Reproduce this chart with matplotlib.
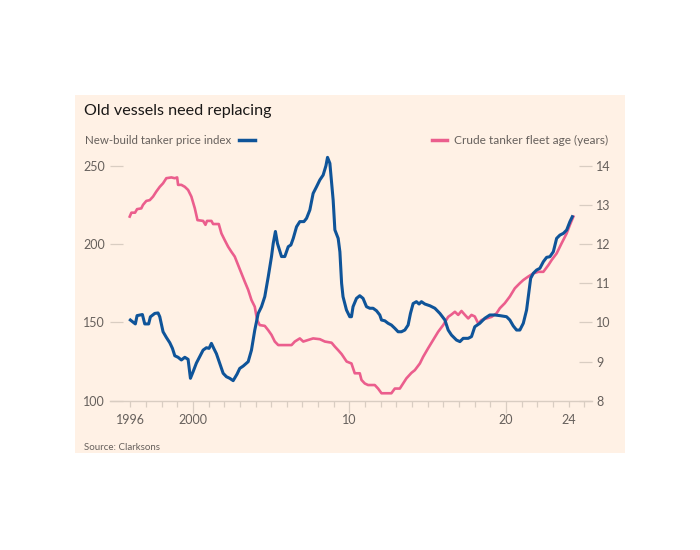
import numpy as np
import matplotlib.pyplot as plt
from matplotlib.patches import Rectangle

# New-build tanker price index (left axis)
price_years = [1996.0, 1996.32, 1996.43, 1996.77, 1996.92, 1997.17, 1997.28, 1997.56, 1997.77, 1997.88,
               1998.09, 1998.30, 1998.52, 1998.69, 1998.84, 1999.05, 1999.26, 1999.48, 1999.69, 1999.84,
               2000.01, 2000.22, 2000.43, 2000.65, 2000.86, 2001.03, 2001.18, 2001.33, 2001.50, 2001.71,
               2001.93, 2002.14, 2002.35, 2002.57, 2002.82, 2002.99, 2003.21, 2003.53, 2003.74, 2003.95,
               2004.17, 2004.38, 2004.59, 2004.81, 2005.02, 2005.13, 2005.27, 2005.40, 2005.66, 2005.87,
               2006.09, 2006.26, 2006.41, 2006.62, 2006.83, 2007.09, 2007.26, 2007.47, 2007.68, 2007.90,
               2008.11, 2008.32, 2008.50, 2008.60, 2008.75, 2008.96, 2009.07, 2009.28, 2009.39, 2009.50,
               2009.59, 2009.81, 2010.02, 2010.13, 2010.23, 2010.45, 2010.66, 2010.87, 2011.09, 2011.30,
               2011.51, 2011.73, 2011.94, 2012.05, 2012.26, 2012.47, 2012.68, 2012.90, 2013.11, 2013.32,
               2013.54, 2013.75, 2013.90, 2014.07, 2014.28, 2014.45, 2014.60, 2014.82, 2015.14, 2015.46,
               2015.78, 2016.10, 2016.31, 2016.52, 2016.84, 2017.06, 2017.27, 2017.59, 2017.80, 2018.01,
               2018.33, 2018.65, 2018.97, 2019.29, 2019.61, 2020.04, 2020.25, 2020.47, 2020.68, 2020.89,
               2021.11, 2021.32, 2021.43, 2021.58, 2021.75, 2021.96, 2022.17, 2022.39, 2022.60, 2022.81,
               2023.03, 2023.24, 2023.45, 2023.67, 2023.88, 2024.09, 2024.24]
price_index = [151.5, 149.0, 154.3, 155.0, 149.0, 149.0, 153.5, 155.7, 156.0, 153.6,
               144.0, 140.4, 137.0, 133.4, 128.7, 127.7, 126.0, 127.7, 126.4, 114.3,
               118.5, 124.0, 128.0, 132.3, 133.8, 133.4, 136.6, 133.4, 130.0, 124.0,
               117.5, 115.3, 114.3, 112.8, 117.0, 120.6, 122.1, 124.9, 132.3, 145.0,
               155.7, 160.0, 166.4, 179.0, 192.0, 200.4, 208.0, 200.4, 192.0, 192.0,
               198.3, 199.4, 203.6, 211.0, 214.3, 214.3, 216.4, 221.7, 232.3, 236.6,
               240.9, 244.0, 250.0, 255.3, 251.5, 228.0, 209.0, 203.6, 195.0, 174.9,
               166.4, 157.9, 153.6, 153.6, 160.0, 165.3, 167.0, 165.3, 160.0, 159.0,
               159.0, 157.4, 154.7, 151.5, 151.0, 149.4, 148.3, 146.2, 144.0, 144.0,
               145.1, 148.3, 155.7, 162.0, 163.2, 161.7, 163.2, 161.7, 160.6, 159.0,
               155.7, 151.5, 145.1, 141.9, 138.7, 137.7, 139.8, 139.8, 140.9, 147.2,
               149.4, 152.6, 154.7, 154.7, 154.3, 153.6, 151.5, 147.7, 145.1, 145.1,
               149.4, 157.9, 166.4, 178.1, 181.3, 183.4, 184.5, 188.7, 191.5, 191.9,
               195.1, 203.6, 205.7, 206.8, 208.9, 214.3, 217.4]

# Crude tanker fleet age, years (right axis)
age_years = [1995.96, 1996.07, 1996.30, 1996.43, 1996.70, 1996.81, 1997.02, 1997.24, 1997.45, 1997.66,
             1997.88, 1998.09, 1998.30, 1998.62, 1998.84, 1998.99, 1999.05, 1999.26, 1999.48, 1999.69,
             1999.90, 2000.12, 2000.29, 2000.65, 2000.80, 2000.90, 2001.18, 2001.29, 2001.65, 2001.82,
             2002.03, 2002.25, 2002.46, 2002.67, 2002.89, 2003.10, 2003.31, 2003.53, 2003.74, 2003.95,
             2004.10, 2004.27, 2004.59, 2004.81, 2005.02, 2005.23, 2005.45, 2006.30, 2006.51, 2006.83,
             2007.05, 2007.36, 2007.68, 2008.11, 2008.43, 2008.86, 2009.07, 2009.28, 2009.50, 2009.82,
             2010.13, 2010.34, 2010.66, 2010.77, 2010.98, 2011.19, 2011.62, 2011.83, 2012.05, 2012.68,
             2012.90, 2013.22, 2013.43, 2013.64, 2013.96, 2014.18, 2014.50, 2014.71, 2015.03, 2015.35,
             2015.67, 2015.99, 2016.31, 2016.52, 2016.74, 2016.95, 2017.16, 2017.38, 2017.59, 2017.80,
             2018.01, 2018.23, 2018.44, 2018.76, 2019.08, 2019.40, 2019.61, 2019.93, 2020.25, 2020.57,
             2020.89, 2021.11, 2021.43, 2021.75, 2022.07, 2022.39, 2022.71, 2022.92, 2023.24, 2023.56,
             2023.88, 2024.09, 2024.31]
fleet_age = [12.70, 12.80, 12.80, 12.89, 12.91, 13.00, 13.10, 13.12, 13.21, 13.34,
             13.46, 13.55, 13.68, 13.70, 13.68, 13.70, 13.51, 13.51, 13.46, 13.38,
             13.21, 12.91, 12.61, 12.59, 12.49, 12.59, 12.59, 12.51, 12.51, 12.27,
             12.10, 11.93, 11.80, 11.68, 11.46, 11.25, 11.04, 10.83, 10.57, 10.40,
             10.06, 9.93, 9.91, 9.80, 9.68, 9.51, 9.42, 9.42, 9.51, 9.59,
             9.51, 9.55, 9.59, 9.57, 9.51, 9.48, 9.38, 9.29, 9.19, 9.00,
             8.95, 8.70, 8.70, 8.53, 8.44, 8.40, 8.40, 8.31, 8.19, 8.19,
             8.31, 8.31, 8.44, 8.57, 8.71, 8.78, 8.95, 9.12, 9.34, 9.55,
             9.76, 9.93, 10.14, 10.20, 10.27, 10.19, 10.29, 10.19, 10.10, 10.19,
             10.15, 9.97, 10.06, 10.10, 10.14, 10.23, 10.36, 10.49, 10.66, 10.87,
             11.00, 11.08, 11.17, 11.25, 11.29, 11.29, 11.46, 11.59, 11.76, 12.02,
             12.27, 12.49, 12.70]

left_ticks = [100, 150, 200, 250]
right_ticks = [8, 9, 10, 11, 12, 13, 14]
x_labels = ['1996', '2000', '10', '20', '24']
x_label_years = [1996, 2000, 2010, 2020, 2024]

blue = '#0f5499'
pink = '#eb5e8d'
paper = '#fff1e5'
grey = '#66605c'
stub = '#d9cdc2'

plt.rcParams['font.family'] = ['Lato', 'DejaVu Sans']

fig = plt.figure(figsize=(7, 5.5), dpi=100, facecolor='white')
fig.patches.append(Rectangle((75 / 700, 1 - 453 / 550), 550 / 700, 358 / 550,
                             transform=fig.transFigure, facecolor=paper, edgecolor='none', zorder=-10))

ax = fig.add_axes([110 / 700, 1 - 400.7 / 550, 482 / 700, 250.7 / 550])
ax2 = ax.twinx()
ax.set_zorder(2)
ax2.set_zorder(1)
ax.patch.set_visible(False)
ax2.patch.set_visible(False)

ax2.plot(age_years, fleet_age, color=pink, lw=1.9, solid_joinstyle='round')
ax.plot(price_years, price_index, color=blue, lw=2.2, solid_joinstyle='round')

ax.set_xlim(1994.7, 2025.5)
ax.set_ylim(100, 260)
ax2.set_ylim(8, 14.4)

for a in (ax, ax2):
    for s in a.spines.values():
        s.set_visible(False)
ax.spines['bottom'].set_visible(True)
ax.spines['bottom'].set_color(stub)
ax.spines['bottom'].set_linewidth(1)

ax.set_xticks([2000, 2010, 2020])
ax.set_xticks(np.arange(1996, 2026, 1), minor=True)
ax.set_xticklabels([])
ax.tick_params(axis='x', which='major', length=8.5, width=0.9, color=stub)
ax.tick_params(axis='x', which='minor', length=4, width=0.9, color=stub)
for yr, lab in zip(x_label_years, x_labels):
    ax.text(yr, -0.075, lab, transform=ax.get_xaxis_transform(), ha='center', va='center',
            fontsize=9, color=grey)

ax.set_yticks(left_ticks)
ax.set_yticklabels([str(t) for t in left_ticks])
ax.tick_params(axis='y', direction='in', length=9.5, width=0.9, color=stub, labelcolor=grey,
               labelsize=9, pad=3.5)

ax2.set_yticks(right_ticks)
ax2.set_yticklabels([str(t) for t in right_ticks])
ax2.tick_params(axis='y', direction='in', length=9.5, width=0.9, color=stub, labelcolor=grey,
                labelsize=9, pad=3)

fig.text(84 / 700, 1 - 111 / 550, 'Old vessels need replacing', fontsize=11.6, color='#1a1817',
         ha='left', va='center')
fig.text(85 / 700, 1 - 140 / 550, 'New-build tanker price index', fontsize=8.3, color=grey,
         ha='left', va='center')
fig.add_artist(plt.Line2D([239 / 700, 255 / 700], [1 - 140 / 550, 1 - 140 / 550], color=blue, lw=2.5,
                          transform=fig.transFigure))
fig.text(608 / 700, 1 - 140 / 550, 'Crude tanker fleet age (years)', fontsize=8.6, color=grey,
         ha='right', va='center')
fig.add_artist(plt.Line2D([432 / 700, 447 / 700], [1 - 140 / 550, 1 - 140 / 550], color=pink, lw=2.5,
                          transform=fig.transFigure))
fig.text(84 / 700, 1 - 447 / 550, 'Source: Clarksons', fontsize=7, color=grey, ha='left', va='center')

fig.savefig('out.png', dpi=100, facecolor='white')
